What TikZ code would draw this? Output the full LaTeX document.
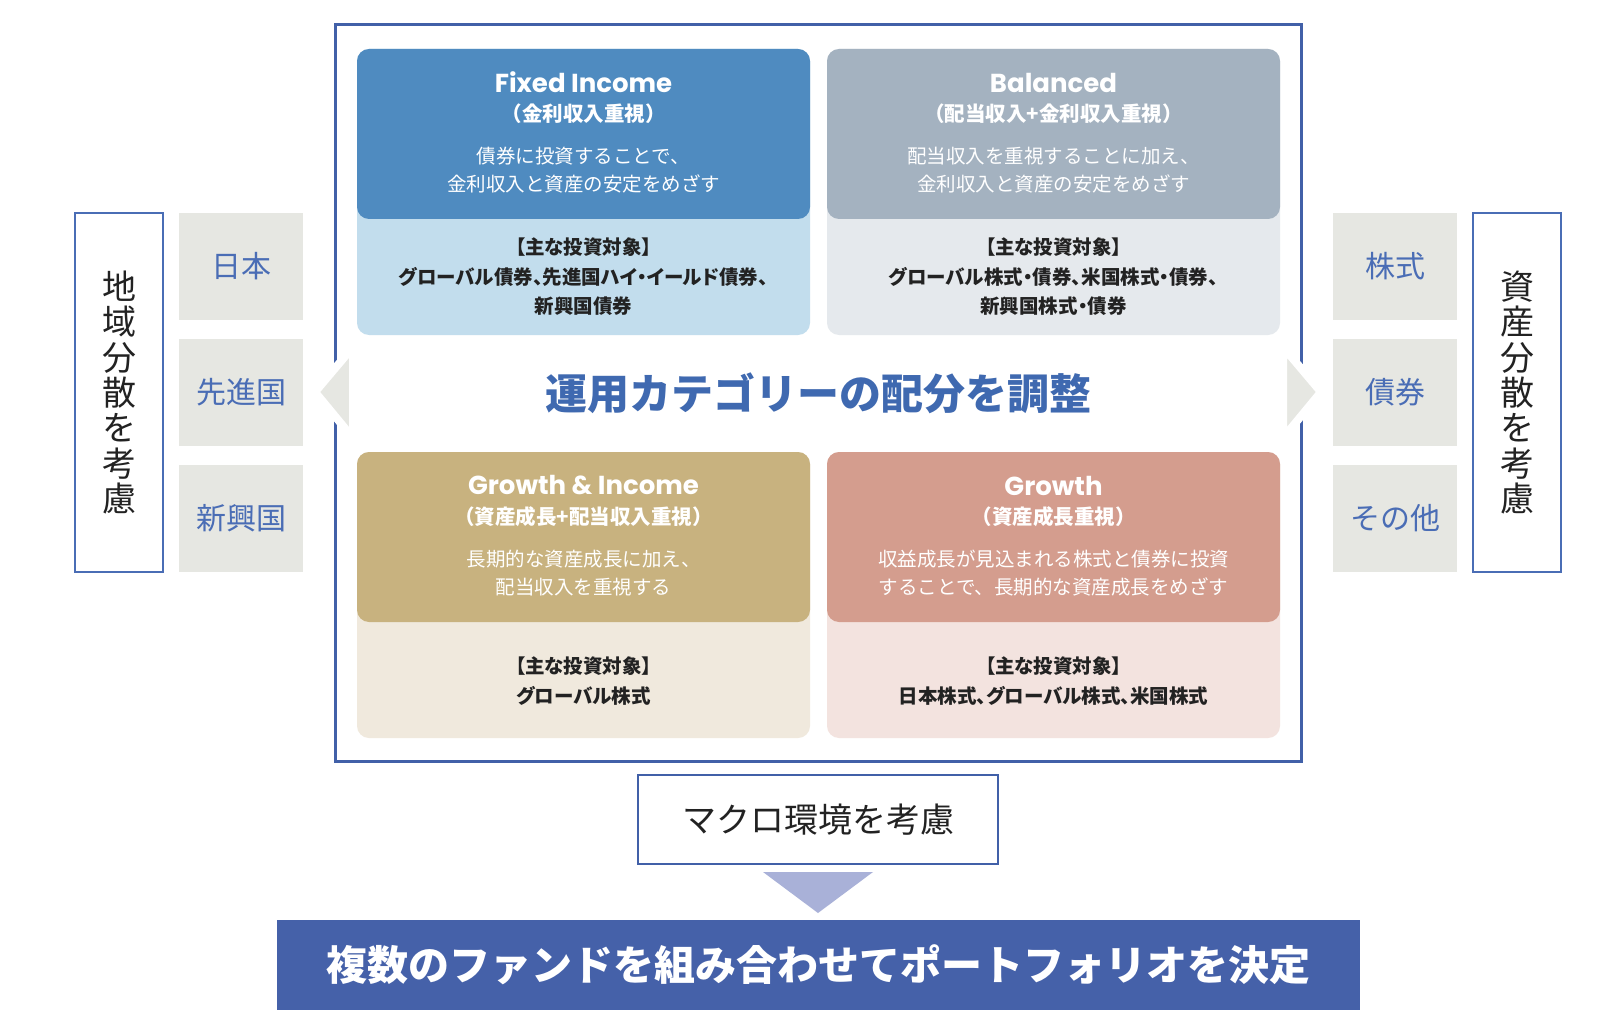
\documentclass[tikz,border=0pt]{standalone}
\usepackage{fontspec}
\setmainfont{Noto Sans CJK JP}
\newfontfamily\titlefam{Poppins}
\newfontfamily\jpprop{Noto Sans CJK JP}[RawFeature=+palt]
\definecolor{frameblue}{HTML}{4160A8}
\definecolor{fihead}{HTML}{4F8BC0}
\definecolor{fibody}{HTML}{C2DDED}
\definecolor{bahead}{HTML}{A4B2C0}
\definecolor{babody}{HTML}{E5E9ED}
\definecolor{gihead}{HTML}{C8B27F}
\definecolor{gibody}{HTML}{F0E9DD}
\definecolor{grhead}{HTML}{D49D8E}
\definecolor{grbody}{HTML}{F3E3DF}
\definecolor{tilegray}{HTML}{E6E7E2}
\definecolor{tileblue}{HTML}{4A6DB5}
\definecolor{headblue}{HTML}{3F69B0}
\definecolor{lav}{HTML}{A9B1D8}
\definecolor{bannerblue}{HTML}{4561A9}
\definecolor{txt}{HTML}{222222}
\tikzset{
  cardbody/.style={rounded corners=12pt, inner sep=0pt, minimum width=453pt, minimum height=286pt},
  cardhead/.style={rounded corners=12pt, inner sep=0pt, minimum width=453pt, minimum height=170pt},
  cardtitle/.style={text=white, font=\titlefam\bfseries\fontsize{26}{28}\selectfont, inner sep=0pt},
  cardsub/.style={text=white, font=\bfseries\fontsize{20.5}{24}\selectfont, inner sep=0pt},
  carddesc/.style={text=white, font=\fontsize{19.5}{27.5}\selectfont, align=center, inner sep=0pt},
  cardtarget/.style={text=txt, font=\jpprop\bfseries\fontsize{19.5}{29.5}\selectfont, align=center, inner sep=0pt},
  tile/.style={fill=tilegray, inner sep=0pt, minimum width=124pt, minimum height=107pt, text=tileblue, font=\fontsize{30}{30}\selectfont},
  sidebox/.style={draw=tileblue, line width=2pt, fill=white, inner sep=0pt, minimum width=88pt, minimum height=359pt, text=txt, align=center, font=\fontsize{34}{35.3}\selectfont},
  sidearrow/.style={fill=tilegray, draw=white, line width=8pt, line join=miter}
}
\newcommand\fundcard[8]{%
  \node[cardbody, fill=#5] (#1-body) at ({#2+226.5},{#3+143}) {};
  \node[cardhead, fill=#4] (#1-head) at ({#2+226.5},{#3+85}) {};
  \node[cardtitle] (#1-title) at ({#2+226.5},{#3+33.5}) {#6};
  \node[cardsub] (#1-sub) at ({#2+226.5},{#3+65}) {#7};
  \node[carddesc] (#1-desc) at ({#2+226.5},{#3+121}) {#8};
}
\begin{document}
\begin{tikzpicture}[x=1pt,y=-1pt]
\useasboundingbox (0,0) rectangle (1608,1016);
\fill[white] (0,0) rectangle (1608,1016);

% outer frame
\node[draw=frameblue, line width=3pt, minimum width=966pt, minimum height=736pt, inner sep=0pt] (frame) at (818,393) {};

% side arrows
\filldraw[sidearrow] (315,392) -- (353,347) -- (353,438) -- cycle;
\filldraw[sidearrow] (1321,392) -- (1283,347) -- (1283,438) -- cycle;

% cards
\fundcard{fi}{357}{49}{fihead}{fibody}{Fixed Income}{（金利収入重視）}{債券に投資することで、\\金利収入と資産の安定をめざす}
\node[cardtarget] (fi-target) at (583.5,277) {【主な投資対象】\\グローバル債券、先進国ハイ・イールド債券、\\新興国債券};

\fundcard{ba}{827}{49}{bahead}{babody}{Balanced}{（配当収入+金利収入重視）}{配当収入を重視することに加え、\\金利収入と資産の安定をめざす}
\node[cardtarget] (ba-target) at (1053.5,277) {【主な投資対象】\\グローバル株式・債券、米国株式・債券、\\新興国株式・債券};

\fundcard{gi}{357}{452}{gihead}{gibody}{Growth \& Income}{（資産成長+配当収入重視）}{長期的な資産成長に加え、\\配当収入を重視する}
\node[cardtarget] (gi-target) at (583.5,681) {【主な投資対象】\\グローバル株式};

\fundcard{gr}{827}{452}{grhead}{grbody}{Growth}{（資産成長重視）}{収益成長が見込まれる株式と債券に投資\\することで、長期的な資産成長をめざす}
\node[cardtarget] (gr-target) at (1053.5,681) {【主な投資対象】\\日本株式、グローバル株式、米国株式};

% central heading
\node[text=headblue, font=\bfseries\fontsize{42}{42}\selectfont, inner sep=0pt] (heading) at (818,393) {運用カテゴリーの配分を調整};

% left side
\node[sidebox] (region) at (119,392.5) {地\\域\\分\\散\\を\\考\\慮};
\node[tile] (japan) at (241,266.5) {日本};
\node[tile] (developed) at (241,392.5) {先進国};
\node[tile] (emerging) at (241,518.5) {新興国};

% right side
\node[sidebox] (asset) at (1517,392.5) {資\\産\\分\\散\\を\\考\\慮};
\node[tile] (stocks) at (1395,266.5) {株式};
\node[tile] (bonds) at (1395,392.5) {債券};
\node[tile] (others) at (1395,518.5) {その他};

% macro box
\node[draw=frameblue, line width=2pt, minimum width=360pt, minimum height=89pt, inner sep=0pt, text=txt, font=\fontsize{34}{34}\selectfont] (macro) at (818,819.5) {マクロ環境を考慮};

% banner
\node[fill=bannerblue, minimum width=1083pt, minimum height=90pt, inner sep=0pt, text=white, font=\bfseries\fontsize{41}{41}\selectfont] (banner) at (818.5,965) {複数のファンドを組み合わせてポートフォリオを決定};

% down arrow
\coordinate (dtl) at (763,872);
\coordinate (dtr) at (873,872);
\coordinate (dtip) at (818,913);
\fill[lav] (dtl) -- (dtr) -- (dtip) -- cycle;
\end{tikzpicture}
\end{document}
